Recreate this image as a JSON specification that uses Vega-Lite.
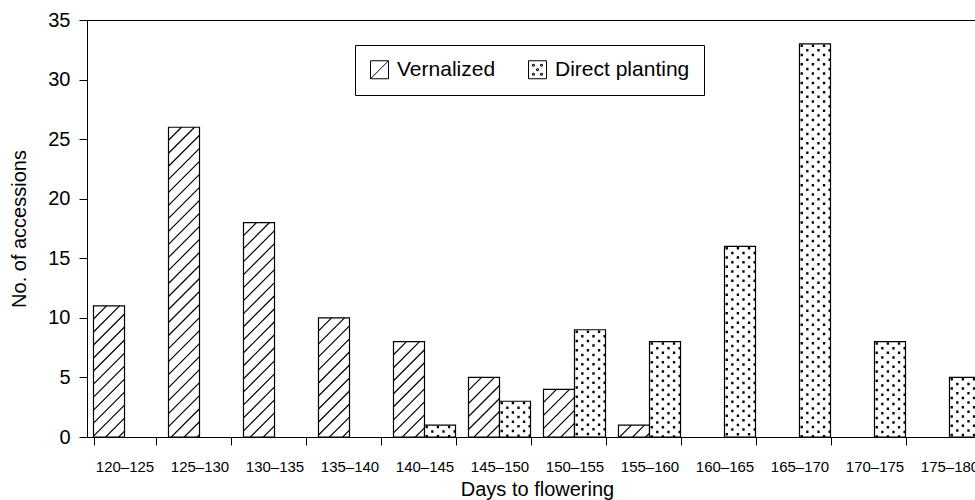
{
  "$schema": "https://vega.github.io/schema/vega-lite/v6.json",
  "width": 888,
  "height": 417,
  "autosize": {"type": "none"},
  "padding": {"left": 87, "top": 20, "right": 0, "bottom": 63},
  "background": "white",
  "config": {
    "font": "Liberation Sans",
    "view": {"stroke": "black", "strokeWidth": 1},
    "axis": {"domainColor": "black", "tickColor": "black", "labelColor": "black", "titleColor": "black", "grid": false, "titleFontWeight": "normal", "domainWidth": 1, "tickWidth": 1}
  },
  "data": {
    "values": [
      {"range": "120–125", "series": "Vernalized", "count": 11},
      {"range": "125–130", "series": "Vernalized", "count": 26},
      {"range": "130–135", "series": "Vernalized", "count": 18},
      {"range": "135–140", "series": "Vernalized", "count": 10},
      {"range": "140–145", "series": "Vernalized", "count": 8},
      {"range": "140–145", "series": "Direct planting", "count": 1},
      {"range": "145–150", "series": "Vernalized", "count": 5},
      {"range": "145–150", "series": "Direct planting", "count": 3},
      {"range": "150–155", "series": "Vernalized", "count": 4},
      {"range": "150–155", "series": "Direct planting", "count": 9},
      {"range": "155–160", "series": "Vernalized", "count": 1},
      {"range": "155–160", "series": "Direct planting", "count": 8},
      {"range": "160–165", "series": "Direct planting", "count": 16},
      {"range": "165–170", "series": "Direct planting", "count": 33},
      {"range": "170–175", "series": "Direct planting", "count": 8},
      {"range": "175–180", "series": "Direct planting", "count": 5}
    ]
  },
  "encoding": {
    "x": {
      "field": "range", "type": "nominal",
      "scale": {"domain": ["120–125","125–130","130–135","135–140","140–145","145–150","150–155","155–160","160–165","165–170","170–175","175–180"], "range": [0, 900], "paddingInner": 0.173, "paddingOuter": 0.0867},
      "axis": {"title": "Days to flowering", "titleFontSize": 20, "titlePadding": 5, "labelFontSize": 15, "labelAngle": 0, "tickSize": 8, "labelPadding": 14, "tickBand": "extent"}
    },
    "xOffset": {
      "field": "series", "type": "nominal",
      "scale": {"domain": ["Vernalized", "Direct planting"], "paddingInner": 0, "paddingOuter": 0}
    },
    "y": {
      "field": "count", "type": "quantitative",
      "scale": {"domain": [0, 35], "nice": false},
      "axis": {"title": "No. of accessions", "titleFontSize": 20, "titlePadding": 18, "labelFontSize": 20, "tickSize": 8, "labelPadding": 9, "values": [0, 5, 10, 15, 20, 25, 30, 35]}
    }
  },
  "layer": [
    {
      "mark": {"type": "bar", "stroke": "black", "strokeWidth": 1.2},
      "encoding": {
        "fill": {
          "field": "series", "type": "nominal",
          "scale": {"domain": ["Vernalized", "Direct planting"], "range": ["white", "white"]},
          "legend": {
            "title": null, "orient": "none", "legendX": 268, "legendY": 25, "direction": "horizontal",
            "padding": 14, "strokeColor": "black", "symbolSize": 324, "symbolStrokeColor": "black", "symbolStrokeWidth": 1,
            "labelFontSize": 21, "labelOffset": 7, "columnPadding": 30, "labelColor": "black",
            "encode": {"symbols": {"update": {
              "shape": {"signal": "datum.value === 'Vernalized' ? 'M-1,-1H1V1H-1Z M-1,1L1,-1' : 'M-1,-1H1V1H-1Z M-0.55,-0.6h0.2v0.2h-0.2Z M0.35,-0.6h0.2v0.2h-0.2Z M-0.1,-0.1h0.2v0.2h-0.2Z M-0.55,0.4h0.2v0.2h-0.2Z M0.35,0.4h0.2v0.2h-0.2Z'"},
              "fill": {"value": "white"}, "stroke": {"value": "black"}, "strokeWidth": {"value": 1}, "opacity": {"value": 1}
            }}}
          }
        }
      }
    },
    {
      "transform": [{"filter": "datum.series === 'Vernalized'"}],
      "mark": {"type": "point", "filled": false, "stroke": "black", "strokeWidth": 1.2, "opacity": 1, "size": 961, "clip": true,
        "shape": "M-0.16,0L-1,0.84M0.68,0L-1,1.68M1,0.52L-1,2.52M1,1.36L-1,3.36M1,2.2L-1,4.2M1,3.04L-1,5.04M1,3.88L-1,5.88M1,4.72L-1,6.72M1,5.56L-1,7.56M1,6.4L-1,8.4M1,7.24L-1,9.24M1,8.08L-1,10.08M1,8.92L-1,10.92M1,9.76L-1,11.76M1,10.6L-1,12.6M1,11.44L-1,13.44M1,12.28L-1,14.28M1,13.12L-1,15.12M1,13.96L-1,15.96M1,14.8L-1,16.8M1,15.64L-1,17.64M1,16.48L-1,18.48M1,17.32L-1,19.32M1,18.16L-1,20.16M1,19L-1,21M1,19.84L-1,21.84M1,20.68L-1,22.68"}
    },
    {
      "transform": [{"filter": "datum.series === 'Direct planting'"}],
      "mark": {"type": "point", "filled": false, "stroke": "black", "strokeWidth": 2.5, "opacity": 1, "size": 961, "clip": true,
        "shape": "M-0.93,0.12h0.15m0.57,0h0.15m0.57,0h0.15m-1.23,0.3h0.15m0.57,0h0.15m0.57,0h0.15m-1.95,0.3h0.15m0.57,0h0.15m0.57,0h0.15m-1.23,0.3h0.15m0.57,0h0.15m0.57,0h0.15m-1.95,0.3h0.15m0.57,0h0.15m0.57,0h0.15m-1.23,0.3h0.15m0.57,0h0.15m0.57,0h0.15m-1.95,0.3h0.15m0.57,0h0.15m0.57,0h0.15m-1.23,0.3h0.15m0.57,0h0.15m0.57,0h0.15m-1.95,0.3h0.15m0.57,0h0.15m0.57,0h0.15m-1.23,0.3h0.15m0.57,0h0.15m0.57,0h0.15m-1.95,0.3h0.15m0.57,0h0.15m0.57,0h0.15m-1.23,0.3h0.15m0.57,0h0.15m0.57,0h0.15m-1.95,0.3h0.15m0.57,0h0.15m0.57,0h0.15m-1.23,0.3h0.15m0.57,0h0.15m0.57,0h0.15m-1.95,0.3h0.15m0.57,0h0.15m0.57,0h0.15m-1.23,0.3h0.15m0.57,0h0.15m0.57,0h0.15m-1.95,0.3h0.15m0.57,0h0.15m0.57,0h0.15m-1.23,0.3h0.15m0.57,0h0.15m0.57,0h0.15m-1.95,0.3h0.15m0.57,0h0.15m0.57,0h0.15m-1.23,0.3h0.15m0.57,0h0.15m0.57,0h0.15m-1.95,0.3h0.15m0.57,0h0.15m0.57,0h0.15m-1.23,0.3h0.15m0.57,0h0.15m0.57,0h0.15m-1.95,0.3h0.15m0.57,0h0.15m0.57,0h0.15m-1.23,0.3h0.15m0.57,0h0.15m0.57,0h0.15m-1.95,0.3h0.15m0.57,0h0.15m0.57,0h0.15m-1.23,0.3h0.15m0.57,0h0.15m0.57,0h0.15m-1.95,0.3h0.15m0.57,0h0.15m0.57,0h0.15m-1.23,0.3h0.15m0.57,0h0.15m0.57,0h0.15m-1.95,0.3h0.15m0.57,0h0.15m0.57,0h0.15m-1.23,0.3h0.15m0.57,0h0.15m0.57,0h0.15m-1.95,0.3h0.15m0.57,0h0.15m0.57,0h0.15m-1.23,0.3h0.15m0.57,0h0.15m0.57,0h0.15m-1.95,0.3h0.15m0.57,0h0.15m0.57,0h0.15m-1.23,0.3h0.15m0.57,0h0.15m0.57,0h0.15m-1.95,0.3h0.15m0.57,0h0.15m0.57,0h0.15m-1.23,0.3h0.15m0.57,0h0.15m0.57,0h0.15m-1.95,0.3h0.15m0.57,0h0.15m0.57,0h0.15m-1.23,0.3h0.15m0.57,0h0.15m0.57,0h0.15m-1.95,0.3h0.15m0.57,0h0.15m0.57,0h0.15m-1.23,0.3h0.15m0.57,0h0.15m0.57,0h0.15m-1.95,0.3h0.15m0.57,0h0.15m0.57,0h0.15m-1.23,0.3h0.15m0.57,0h0.15m0.57,0h0.15m-1.95,0.3h0.15m0.57,0h0.15m0.57,0h0.15m-1.23,0.3h0.15m0.57,0h0.15m0.57,0h0.15m-1.95,0.3h0.15m0.57,0h0.15m0.57,0h0.15m-1.23,0.3h0.15m0.57,0h0.15m0.57,0h0.15m-1.95,0.3h0.15m0.57,0h0.15m0.57,0h0.15m-1.23,0.3h0.15m0.57,0h0.15m0.57,0h0.15m-1.95,0.3h0.15m0.57,0h0.15m0.57,0h0.15m-1.23,0.3h0.15m0.57,0h0.15m0.57,0h0.15m-1.95,0.3h0.15m0.57,0h0.15m0.57,0h0.15m-1.23,0.3h0.15m0.57,0h0.15m0.57,0h0.15m-1.95,0.3h0.15m0.57,0h0.15m0.57,0h0.15m-1.23,0.3h0.15m0.57,0h0.15m0.57,0h0.15m-1.95,0.3h0.15m0.57,0h0.15m0.57,0h0.15m-1.23,0.3h0.15m0.57,0h0.15m0.57,0h0.15m-1.95,0.3h0.15m0.57,0h0.15m0.57,0h0.15m-1.23,0.3h0.15m0.57,0h0.15m0.57,0h0.15m-1.95,0.3h0.15m0.57,0h0.15m0.57,0h0.15m-1.23,0.3h0.15m0.57,0h0.15m0.57,0h0.15m-1.95,0.3h0.15m0.57,0h0.15m0.57,0h0.15m-1.23,0.3h0.15m0.57,0h0.15m0.57,0h0.15m-1.95,0.3h0.15m0.57,0h0.15m0.57,0h0.15m-1.23,0.3h0.15m0.57,0h0.15m0.57,0h0.15m-1.95,0.3h0.15m0.57,0h0.15m0.57,0h0.15m-1.23,0.3h0.15m0.57,0h0.15m0.57,0h0.15m-1.95,0.3h0.15m0.57,0h0.15m0.57,0h0.15m-1.23,0.3h0.15m0.57,0h0.15m0.57,0h0.15m-1.95,0.3h0.15m0.57,0h0.15m0.57,0h0.15m-1.23,0.3h0.15m0.57,0h0.15m0.57,0h0.15m-1.95,0.3h0.15m0.57,0h0.15m0.57,0h0.15m-1.23,0.3h0.15m0.57,0h0.15m0.57,0h0.15m-1.95,0.3h0.15m0.57,0h0.15m0.57,0h0.15m-1.23,0.3h0.15m0.57,0h0.15m0.57,0h0.15m-1.95,0.3h0.15m0.57,0h0.15m0.57,0h0.15m-1.23,0.3h0.15m0.57,0h0.15m0.57,0h0.15m-1.95,0.3h0.15m0.57,0h0.15m0.57,0h0.15m-1.23,0.3h0.15m0.57,0h0.15m0.57,0h0.15m-1.95,0.3h0.15m0.57,0h0.15m0.57,0h0.15m-1.23,0.3h0.15m0.57,0h0.15m0.57,0h0.15m-1.95,0.3h0.15m0.57,0h0.15m0.57,0h0.15m-1.23,0.3h0.15m0.57,0h0.15m0.57,0h0.15m-1.95,0.3h0.15m0.57,0h0.15m0.57,0h0.15m-1.23,0.3h0.15m0.57,0h0.15m0.57,0h0.15m-1.95,0.3h0.15m0.57,0h0.15m0.57,0h0.15m-1.23,0.3h0.15m0.57,0h0.15m0.57,0h0.15m-1.95,0.3h0.15m0.57,0h0.15m0.57,0h0.15m-1.23,0.3h0.15m0.57,0h0.15m0.57,0h0.15m-1.95,0.3h0.15m0.57,0h0.15m0.57,0h0.15m-1.23,0.3h0.15m0.57,0h0.15m0.57,0h0.15m-1.95,0.3h0.15m0.57,0h0.15m0.57,0h0.15m-1.23,0.3h0.15m0.57,0h0.15m0.57,0h0.15m-1.95,0.3"}
    }
  ]
}
